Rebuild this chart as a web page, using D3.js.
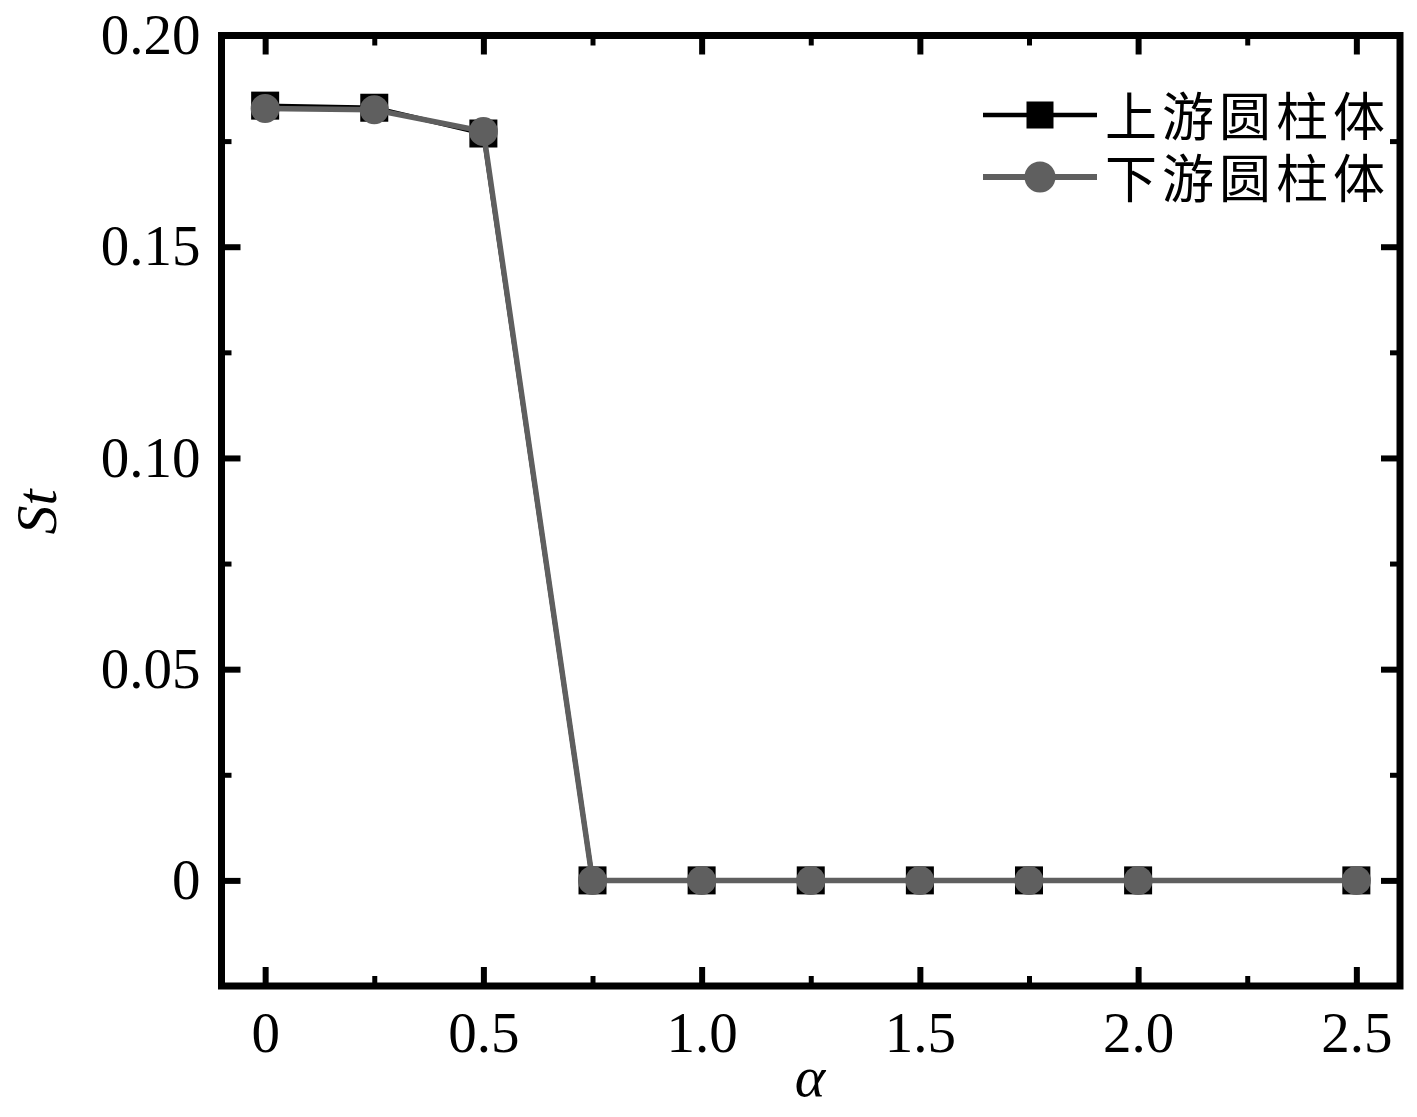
<!DOCTYPE html>
<html>
<head>
<meta charset="utf-8">
<script src="https://cdn.jsdelivr.net/npm/d3@7"></script>
<style>
  html, body { margin: 0; padding: 0; background: #fff; }
  svg { display: block; }
</style>
</head>
<body>
<div id="chart"></div>
<script>
// data
const alphaValues = [0, 0.25, 0.5, 0.75, 1.0, 1.25, 1.5, 1.75, 2.0, 2.5];
const upstreamSt = [0.1834, 0.1829, 0.1768, 0, 0, 0, 0, 0, 0, 0];
const downstreamSt = [0.1827, 0.1824, 0.1773, 0, 0, 0, 0, 0, 0, 0];
const seriesNames = ['上游圆柱体', '下游圆柱体'];
const xMajorTicks = [0, 0.5, 1.0, 1.5, 2.0, 2.5];
const xMinorTicks = [0.25, 0.75, 1.25, 1.75, 2.25];
const yMajorTicks = [0, 0.05, 0.10, 0.15, 0.20];
const yMinorTicks = [-0.025, 0.025, 0.075, 0.125, 0.175];

const width = 1417, height = 1117;
const margin = { top: 35.5, right: 17, bottom: 131, left: 221.5 };
const plotW = width - margin.left - margin.right;
const plotH = height - margin.top - margin.bottom;

const serif = '"Liberation Serif", "Times New Roman", serif';
const cjk = '"Noto Sans CJK SC", sans-serif';
const grey = '#5f5f5f';

const svg = d3.select('#chart')
    .append('svg')
    .attr('width', width)
    .attr('height', height);

const g = svg.append('g')
    .attr('transform', `translate(${margin.left}, ${margin.top})`);

const x = d3.scaleLinear().domain([-0.1, 2.6]).range([0, plotW]);
const y = d3.scaleLinear().domain([-0.025, 0.2]).range([plotH, 0]);

const fmtX = d => d === 0 ? '0' : d3.format('.1f')(d);
const fmtY = d => d === 0 ? '0' : d3.format('.2f')(d);

// axes, ticks pointing inward on all four sides
function styleAxis(sel, w) {
    sel.select('.domain').remove();
    sel.selectAll('.tick line').attr('stroke', '#000').attr('stroke-width', w);
    sel.selectAll('.tick text')
        .attr('fill', '#000')
        .style('font-family', serif)
        .style('font-size', '57px');
}

g.append('g')
    .attr('transform', `translate(0, ${plotH})`)
    .call(d3.axisBottom(x).tickValues(xMajorTicks).tickFormat(fmtX).tickSize(-19).tickPadding(26))
    .call(s => styleAxis(s, 6));
g.append('g')
    .attr('transform', `translate(0, ${plotH})`)
    .call(d3.axisBottom(x).tickValues(xMinorTicks).tickFormat('').tickSize(-10))
    .call(s => styleAxis(s, 5));
g.append('g')
    .call(d3.axisTop(x).tickValues(xMajorTicks).tickFormat('').tickSize(-19))
    .call(s => styleAxis(s, 6));
g.append('g')
    .call(d3.axisTop(x).tickValues(xMinorTicks).tickFormat('').tickSize(-10))
    .call(s => styleAxis(s, 5));

g.append('g')
    .call(d3.axisLeft(y).tickValues(yMajorTicks).tickFormat(fmtY).tickSize(-19).tickPadding(21))
    .call(s => styleAxis(s, 6));
g.append('g')
    .call(d3.axisLeft(y).tickValues(yMinorTicks).tickFormat('').tickSize(-10))
    .call(s => styleAxis(s, 5));
g.append('g')
    .attr('transform', `translate(${plotW}, 0)`)
    .call(d3.axisRight(y).tickValues(yMajorTicks).tickFormat('').tickSize(-19))
    .call(s => styleAxis(s, 6));
g.append('g')
    .attr('transform', `translate(${plotW}, 0)`)
    .call(d3.axisRight(y).tickValues(yMinorTicks).tickFormat('').tickSize(-10))
    .call(s => styleAxis(s, 5));

// frame
g.append('rect')
    .attr('width', plotW)
    .attr('height', plotH)
    .attr('fill', 'none')
    .attr('stroke', '#000')
    .attr('stroke-width', 7);

// series
const up = alphaValues.map((a, i) => [a, upstreamSt[i]]);
const down = alphaValues.map((a, i) => [a, downstreamSt[i]]);
const line = d3.line().x(d => x(d[0])).y(d => y(d[1]));

const sq = 28;
g.append('path')
    .datum(up)
    .attr('fill', 'none')
    .attr('stroke', '#000')
    .attr('stroke-width', 4.5)
    .attr('d', line);
g.selectAll('.sq')
    .data(up)
    .enter()
    .append('rect')
    .attr('x', d => x(d[0]) - sq / 2)
    .attr('y', d => y(d[1]) - sq / 2)
    .attr('width', sq)
    .attr('height', sq)
    .attr('fill', '#000');

g.append('path')
    .datum(down)
    .attr('fill', 'none')
    .attr('stroke', grey)
    .attr('stroke-width', 5.5)
    .attr('d', line);
g.selectAll('.ci')
    .data(down)
    .enter()
    .append('circle')
    .attr('cx', d => x(d[0]))
    .attr('cy', d => y(d[1]))
    .attr('r', 14.5)
    .attr('fill', grey);

// axis titles
svg.append('text')
    .attr('transform', 'translate(56, 512) rotate(-90)')
    .attr('text-anchor', 'middle')
    .style('font-family', serif)
    .style('font-style', 'italic')
    .style('font-size', '58px')
    .text('St');

svg.append('text')
    .attr('x', 810)
    .attr('y', 1096)
    .attr('text-anchor', 'middle')
    .style('font-family', serif)
    .style('font-style', 'italic')
    .style('font-size', '58px')
    .text('α');

// legend
const legend = svg.append('g');
const legendRows = [
    { name: seriesNames[0], color: '#000', lw: 4.5, y: 115, shape: 'square' },
    { name: seriesNames[1], color: grey, lw: 6, y: 177, shape: 'circle' }
];
legendRows.forEach(r => {
    legend.append('line')
        .attr('x1', 983).attr('x2', 1097)
        .attr('y1', r.y).attr('y2', r.y)
        .attr('stroke', r.color)
        .attr('stroke-width', r.lw);
    if (r.shape === 'square') {
        legend.append('rect')
            .attr('x', 1040 - 13.5).attr('y', r.y - 13.5)
            .attr('width', 27).attr('height', 27)
            .attr('fill', r.color);
    } else {
        legend.append('circle')
            .attr('cx', 1040).attr('cy', r.y)
            .attr('r', 15.5)
            .attr('fill', r.color);
    }
    legend.append('text')
        .attr('x', 1105)
        .attr('y', r.y - 2)
        .attr('dominant-baseline', 'central')
        .style('font-family', cjk)
        .style('font-size', '52px')
        .style('letter-spacing', '5px')
        .attr('fill', '#000')
        .text(r.name);
});
</script>
</body>
</html>
